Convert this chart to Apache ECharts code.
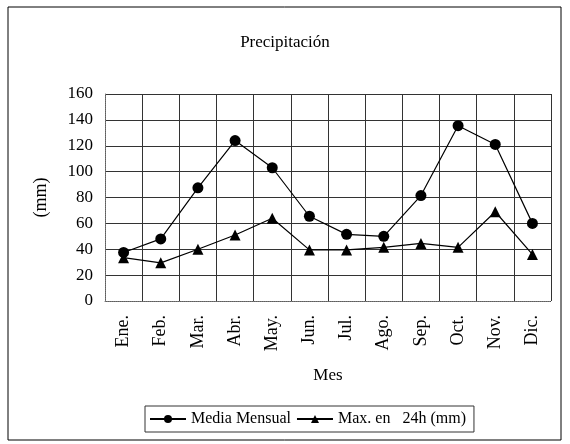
<!DOCTYPE html>
<html>
<head>
<meta charset="utf-8">
<script src="https://cdn.jsdelivr.net/npm/echarts@6/dist/echarts.min.js"></script>
<style>
  html, body { margin: 0; padding: 0; background: #fff; }
  #main { width: 570px; height: 444px; }
</style>
</head>
<body>
<div id="main"></div>
<script>
const meses = ["Ene.", "Feb.", "Mar.", "Abr.", "May.", "Jun.", "Jul.", "Ago.", "Sep.", "Oct.", "Nov.", "Dic."];
const mediaMensual = [37.5, 48, 87.5, 124, 103, 65.5, 51.5, 50, 81.5, 135.5, 121, 60];
const max24h = [33.5, 29.5, 40, 51, 64, 39.5, 39.5, 41.5, 44.5, 41.5, 69, 36];

const serif = "Liberation Serif";

// chart frame
const myChart = echarts.init(document.getElementById("main"));
const option = {
  backgroundColor: "#fff",
  textStyle: { fontFamily: serif, color: "#000" },
  graphic: [
    {
      type: "rect",
      shape: { x: 8, y: 7, width: 553, height: 433 },
      style: { fill: "none", stroke: "#000", lineWidth: 1 },
    },
  ],
  title: {
    text: "Precipitación",
    left: "center",
    top: 29,
    textStyle: { fontFamily: serif, fontSize: 17, fontWeight: "normal", color: "#000" },
  },
  legend: {
    bottom: 12,
    left: 145,
    itemWidth: 36,
    itemHeight: 10,
    itemGap: 5,
    padding: [5, 8, 5, 4],
    borderColor: "#333",
    borderWidth: 1,
    textStyle: { fontFamily: serif, fontSize: 16, color: "#000" },
    data: ["Media Mensual", "Max. en   24h (mm)"],
  },
  grid: {
    left: 105,
    right: 19,
    top: 94,
    bottom: 143,
    containLabel: false,
  },
  xAxis: {
    type: "category",
    data: meses,
    name: "Mes",
    nameLocation: "middle",
    nameGap: 66,
    nameTextStyle: { fontFamily: serif, fontSize: 17, color: "#000" },
    axisLine: { lineStyle: { color: "#777", type: "dotted" } },
    axisTick: { show: false },
    axisLabel: {
      rotate: 90,
      margin: 14,
      fontFamily: serif,
      fontSize: 18,
      color: "#000",
    },
    splitLine: { show: true, lineStyle: { color: "#333", width: 1 } },
  },
  yAxis: {
    type: "value",
    min: 0,
    max: 160,
    interval: 20,
    name: "(mm)",
    nameLocation: "middle",
    nameGap: 55,
    nameRotate: 90,
    nameTextStyle: { fontFamily: serif, fontSize: 18, color: "#000" },
    axisLine: { show: true, lineStyle: { color: "#777", type: "dotted" } },
    axisTick: { show: false },
    axisLabel: { fontFamily: serif, fontSize: 17, color: "#000", margin: 12 },
    splitLine: { show: true, lineStyle: { color: "#333", width: 1 } },
  },
  series: [
    {
      name: "Media Mensual",
      type: "line",
      data: mediaMensual,
      symbol: "circle",
      symbolSize: 11,
      lineStyle: { color: "#000", width: 1.2 },
      itemStyle: { color: "#000" },
      animation: false,
    },
    {
      name: "Max. en   24h (mm)",
      type: "line",
      data: max24h,
      symbol: "triangle",
      symbolSize: 11,
      lineStyle: { color: "#000", width: 1.2 },
      itemStyle: { color: "#000" },
      animation: false,
    },
  ],
};
myChart.setOption(option);
</script>
</body>
</html>
